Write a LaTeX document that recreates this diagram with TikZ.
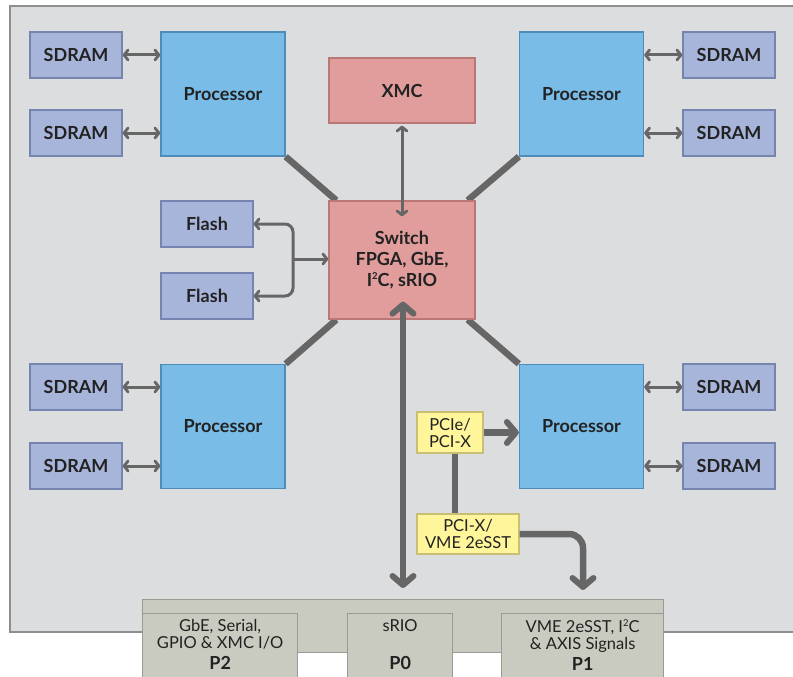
\documentclass[tikz,border=0pt]{standalone}
\usepackage{fontspec}
\setmainfont{Lato}
\usetikzlibrary{arrows.meta}
\definecolor{panel}{HTML}{DCDDDF}
\definecolor{panelb}{HTML}{8E8E8E}
\definecolor{sdf}{HTML}{A8B5DB}
\definecolor{sdb}{HTML}{7685B0}
\definecolor{prf}{HTML}{78BCE7}
\definecolor{prb}{HTML}{4F8DB8}
\definecolor{pkf}{HTML}{E09D9C}
\definecolor{pkb}{HTML}{B97776}
\definecolor{ylf}{HTML}{FFF59B}
\definecolor{ylb}{HTML}{C9BF74}
\definecolor{cnf}{HTML}{C9CBC0}
\definecolor{cnb}{HTML}{9A9A95}
\definecolor{wire}{HTML}{666666}
\definecolor{txt}{HTML}{222222}
\newcommand{\sqr}{\raisebox{0.36em}{\fontsize{9.5}{9.5}\selectfont 2}}
\pgfdeclarelayer{bg}\pgfdeclarelayer{lines}
\pgfsetlayers{bg,lines,main}
\tikzset{
  blk/.style={draw, line width=1.3pt, inner sep=0pt, text=txt, align=center},
  sdram/.style={blk, fill=sdf, draw=sdb, minimum width=92, minimum height=46, font=\fontsize{18}{21}\selectfont\bfseries},
  proc/.style={blk, fill=prf, draw=prb, minimum width=124, minimum height=124, font=\fontsize{18}{21}\selectfont\bfseries},
  pink/.style={blk, fill=pkf, draw=pkb, minimum width=146, font=\fontsize{18}{21}\selectfont\bfseries},
  yel/.style={blk, fill=ylf, draw=ylb, font=\fontsize{16.5}{17}\selectfont},
  conn/.style={draw=cnb, fill=cnf, line width=1.3pt, inner sep=0pt, anchor=north west},
  conntext/.style={anchor=north, align=center, text=txt, inner sep=0pt, font=\fontsize{16.5}{17.5}\selectfont},
  thin/.style={draw=wire, line width=3pt},
  thinarr/.style={thin, {Straight Barb[length=4pt,width=10pt,line width=2.8pt,round]}-{Straight Barb[length=4pt,width=10pt,line width=2.8pt,round]}},
  thick/.style={draw=wire, line width=6.5pt},
  thickarr/.style={thick, -{Straight Barb[length=9pt,width=21pt,line width=6pt,round]}},
  thickarr2/.style={thick, {Straight Barb[length=9pt,width=21pt,line width=6pt,round]}-{Straight Barb[length=9pt,width=21pt,line width=6pt,round]}},
}
\begin{document}
\begin{tikzpicture}[x=1pt,y=-1pt]
\useasboundingbox (0,0) rectangle (793,677);
\begin{pgfonlayer}{bg}
\fill[white] (0,0) rectangle (793,677);
\draw[panelb, fill=panel, line width=1.3pt] (10,6) rectangle (800,632);
\end{pgfonlayer}
% SDRAMs
\node[sdram] (sl1) at (76,55) {SDRAM};
\node[sdram] (sl2) at (76,133) {SDRAM};
\node[sdram] (sl3) at (76,387) {SDRAM};
\node[sdram] (sl4) at (76,466) {SDRAM};
\node[sdram] (sr1) at (729,55) {SDRAM};
\node[sdram] (sr2) at (729,133) {SDRAM};
\node[sdram] (sr3) at (729,387) {SDRAM};
\node[sdram] (sr4) at (729,466) {SDRAM};
% Processors
\node[proc] (p1) at (223,94) {Processor};
\node[proc] (p2) at (581.5,94) {Processor};
\node[proc] (p3) at (223,426.5) {Processor};
\node[proc] (p4) at (581.5,426.5) {Processor};
% XMC, switch
\node[pink, minimum height=65] (xmc) at (402,90.5) {XMC};
\node[pink, minimum height=118] (sw) at (402,260) {Switch\\FPGA, GbE,\\I\sqr C, sRIO};
% Flash
\node[sdram] (f1) at (207,224) {Flash};
\node[sdram] (f2) at (207,296) {Flash};
% yellow
\node[yel, minimum width=66, minimum height=41] (pcie) at (450,432.5) {PCIe/\\PCI-X};
\node[yel, minimum width=102, minimum height=40] (vme) at (468,534) {PCI-X/\\VME 2eSST};
% connector
\node[conn, minimum width=521, minimum height=53] (bar) at (142,599) {};
\node[conn, minimum width=155, minimum height=80] (c2) at (142,613) {};
\node[conn, minimum width=105, minimum height=80] (c0) at (347,613) {};
\node[conn, minimum width=162, minimum height=80] (c1) at (501,613) {};
\node[conntext] (c2t) at ([yshift=-6]c2.north) {GbE, Serial,\\GPIO \& XMC I/O\\[3pt]{\bfseries\fontsize{18}{17.5}\selectfont P2}};
\node[conntext] (c0t) at ([yshift=-6]c0.north) {sRIO\\\mbox{}\\[3pt]{\bfseries\fontsize{18}{17.5}\selectfont P0}};
\node[conntext] (c1t) at ([yshift=-6]c1.north) {VME 2eSST, I\sqr C\\\& AXIS Signals\\[3pt]{\bfseries\fontsize{18}{17.5}\selectfont P1}};
% diagonal links
\begin{pgfonlayer}{lines}
\draw[thick] (p1.south east) -- ([xshift=8]sw.north west);
\draw[thick] (p2.south west) -- ([xshift=-8]sw.north east);
\draw[thick] (p3.north east) -- ([xshift=8]sw.south west);
\draw[thick] (p4.north west) -- ([xshift=-8]sw.south east);
\end{pgfonlayer}
% SDRAM arrows
\foreach \s/\p in {sl1/p1,sl2/p1,sl3/p3,sl4/p3}{
  \draw[thinarr] (\s.east) -- (\s.east -| \p.west);
}
\foreach \s/\p in {sr1/p2,sr2/p2,sr3/p4,sr4/p4}{
  \draw[thinarr] (\s.west) -- (\s.west -| \p.east);
}
% XMC - switch
\draw[thinarr] ([yshift=-2]xmc.south) -- ([yshift=-16]sw.north);
% Flash
\coordinate (fj) at (293,259);
\draw[thin, rounded corners=8pt, -{Straight Barb[length=4pt,width=10pt,line width=2.8pt,round]}] (fj) |- (f1.east);
\draw[thin, rounded corners=8pt, -{Straight Barb[length=4pt,width=10pt,line width=2.8pt,round]}] (fj) |- (f2.east);
\draw[thin, -{Straight Barb[length=4pt,width=10pt,line width=2.8pt,round]}] (fj) -- (fj -| sw.west);
% sRIO
\coordinate (srb) at (403,588);
\draw[thickarr2] (srb) -- ([yshift=18]sw.south -| srb);
% PCIe
\draw[thickarr] (pcie.east) -- (pcie.east -| p4.west);
\draw[thick] ([xshift=5]pcie.south) -- ([xshift=5]pcie.south |- vme.north);
\coordinate (p1top) at (583,590);
\draw[thick, rounded corners=14pt, -{Straight Barb[length=9pt,width=21pt,line width=6pt,round]}] (vme.east) -| (p1top);
\end{tikzpicture}
\end{document}
